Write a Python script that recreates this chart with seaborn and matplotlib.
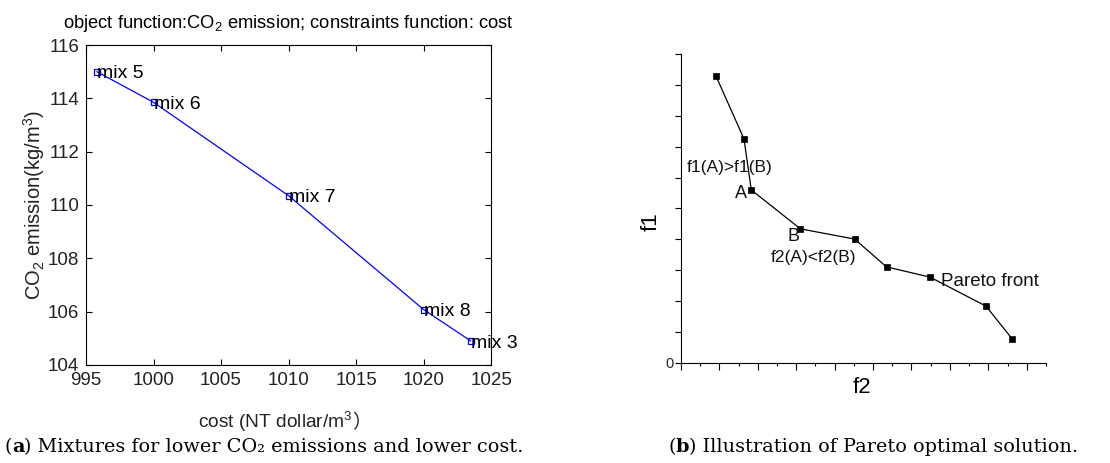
import matplotlib
matplotlib.use("Agg")
import matplotlib.pyplot as plt
import seaborn as sns
from matplotlib.ticker import MultipleLocator, FixedLocator, FixedFormatter, NullFormatter

# ---- data, panel (a) ----
cost = [995.8, 1000.0, 1010.0, 1020.0, 1023.5]
co2 = [115.0, 113.85, 110.35, 106.08, 104.9]
mix_labels = ["mix 5", "mix 6", "mix 7", "mix 8", "mix 3"]
cost_ticks = [995, 1000, 1005, 1010, 1015, 1020, 1025]
co2_ticks = [104, 106, 108, 110, 112, 114, 116]

# ---- data, panel (b) ----
f2 = [0.91, 1.64, 1.83, 3.11, 4.52, 5.35, 6.48, 7.94, 8.62]
f1 = [9.29, 7.25, 5.60, 4.34, 4.01, 3.11, 2.78, 1.84, 0.78]
note_texts = ["f1(A)>f1(B)", "A", "B", "f2(A)<f2(B)", "Pareto front"]
note_x = [0.16, 1.72, 2.92, 3.45, 6.76]
note_y = [6.33, 5.50, 4.08, 3.43, 2.65]
note_ha = ["left", "right", "center", "center", "left"]
note_fs = [12.5, 13, 13, 12.5, 13.5]

sns.set_theme(style="white")
plt.rcParams["font.family"] = ["Liberation Sans", "DejaVu Sans"]
plt.rcParams["mathtext.fontset"] = "custom"
plt.rcParams["mathtext.rm"] = "Liberation Sans"
plt.rcParams["mathtext.it"] = "Liberation Sans:italic"
plt.rcParams["mathtext.bf"] = "Liberation Sans:bold"
plt.rcParams["text.color"] = "black"
plt.rcParams["axes.labelcolor"] = "black"

fig = plt.figure(figsize=(11.1, 4.63), dpi=100)
ax1 = fig.add_axes([0.0775, 0.2117, 0.3649, 0.6911])
ax2 = fig.add_axes([0.6135, 0.216, 0.3288, 0.6674])

# ---------------- panel (a) ----------------
sns.lineplot(x=cost, y=co2, ax=ax1, sort=False, estimator=None, color="blue",
             lw=0.9, marker="s", markersize=4.2, markerfacecolor="none",
             markeredgecolor="blue", markeredgewidth=0.9)
for xv, yv, lab in zip(cost, co2, mix_labels):
    ax1.text(xv, yv - 0.08, lab, ha="left", va="center", fontsize=14, color="black")

ax1.set_xlim(995, 1025)
ax1.set_ylim(104, 116)
ax1.set_xticks(cost_ticks)
ax1.set_yticks(co2_ticks)
ax1.tick_params(direction="in", top=True, right=True, bottom=True, left=True,
                length=4, width=0.8, color="black", labelsize=13.5,
                labelcolor="#222222", pad=5)
for s in ax1.spines.values():
    s.set_visible(True)
    s.set_color("black")
    s.set_linewidth(0.8)

ax1.set_title("object function:CO$_2$ emission; constraints function: cost",
              fontsize=13.2, pad=12, color="black")
ax1.set_ylabel("CO$_2$ emission(kg/m$^3$)", fontsize=14.5, color="#222222")
ax1.yaxis.set_label_coords(-0.096, 0.5)
xl = ax1.text(0.467, -0.197, "cost (NT dollar/m$^3$", transform=ax1.transAxes,
              ha="center", va="baseline", fontsize=13.8, color="#222222")
ax1.annotate("）", xy=(1, -0.197), xycoords=(xl, ax1.transAxes),
             ha="left", va="baseline", fontsize=13.8, color="#222222",
             family=["Noto Sans CJK SC", "DejaVu Sans"], annotation_clip=False)

# ---------------- panel (b) ----------------
sns.lineplot(x=f2, y=f1, ax=ax2, sort=False, estimator=None, color="black",
             lw=0.9, marker="s", markersize=5, markerfacecolor="black",
             markeredgecolor="black", markeredgewidth=0.5)
for t, xv, yv, ha, fs in zip(note_texts, note_x, note_y, note_ha, note_fs):
    ax2.text(xv, yv, t, ha=ha, va="center", fontsize=fs, color="#111111")

ax2.set_xlim(0, 9.5)
ax2.set_ylim(0, 10)
ax2.xaxis.set_major_locator(MultipleLocator(1))
ax2.xaxis.set_minor_locator(MultipleLocator(0.5))
ax2.xaxis.set_major_formatter(NullFormatter())
ax2.yaxis.set_major_locator(FixedLocator(list(range(0, 11))))
ax2.yaxis.set_major_formatter(FixedFormatter(["0"] + [""] * 10))
ax2.tick_params(axis="x", which="major", direction="out", bottom=True, length=5,
                width=0.8, color="black")
ax2.tick_params(axis="x", which="minor", direction="out", bottom=True, length=2.5,
                width=0.8, color="black")
ax2.tick_params(axis="y", which="major", direction="out", left=True, length=4,
                width=0.8, color="black", labelsize=10.5, pad=1)
ax2.spines["top"].set_visible(False)
ax2.spines["right"].set_visible(False)
for s in ("left", "bottom"):
    ax2.spines[s].set_color("black")
    ax2.spines[s].set_linewidth(0.8)
ax2.set_xlabel("f2", fontsize=16, color="black")
ax2.xaxis.set_label_coords(0.496, -0.045)
ax2.set_ylabel("f1", fontsize=16, color="black")
ax2.yaxis.set_label_coords(-0.052, 0.456)

# ---------------- captions ----------------
serif = ["DejaVu Serif"]
cap_fs = 13.9
cap_y = 0.024


def caption(x0, letter, rest):
    t1 = fig.text(x0, cap_y, "(", fontsize=cap_fs, family=serif, va="baseline")
    t2 = ax1.annotate(letter, xy=(1, cap_y), xycoords=(t1, "figure fraction"),
                      fontsize=cap_fs, family=serif, fontweight="bold",
                      va="baseline", ha="left", annotation_clip=False)
    ax1.annotate(rest, xy=(1, cap_y), xycoords=(t2, "figure fraction"),
                 fontsize=cap_fs, family=serif, va="baseline", ha="left",
                 annotation_clip=False)


caption(0.004, "a", ") Mixtures for lower CO₂ emissions and lower cost.")
caption(0.602, "b", ") Illustration of Pareto optimal solution.")

fig.savefig("out.png", dpi=100)
